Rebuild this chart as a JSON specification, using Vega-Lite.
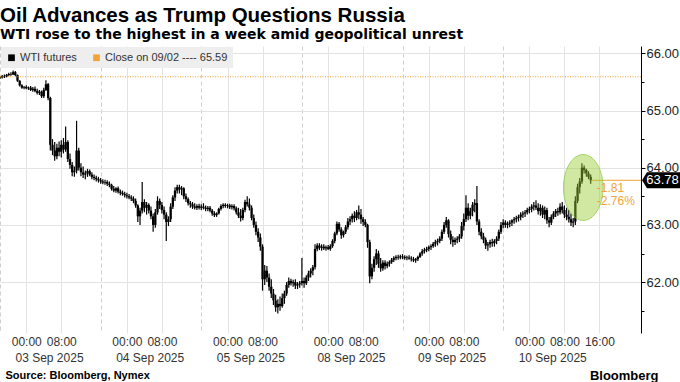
{
"$schema":"https://vega.github.io/schema/vega-lite/v6.json",
"width":641,"height":287,"autosize":{"type":"none"},
"padding":{"left":0,"top":46,"right":39,"bottom":49},
"background":"#ffffff",
"config":{"view":{"stroke":null},"font":"Liberation Sans"},
"title":{"text":"Oil Advances as Trump Questions Russia","subtitle":"WTI rose to the highest in a week amid geopolitical unrest","anchor":"start","frame":"group","offset":4,"font":"Liberation Sans","fontSize":20.5,"fontWeight":"bold","color":"#000","subtitleFont":"DejaVu Sans","subtitleFontSize":14,"subtitleFontWeight":"bold","subtitleColor":"#000","subtitlePadding":2},
"datasets":{
"bars":[
{"t":0,"o":65.57,"h":65.60,"l":65.55,"c":65.58},{"t":0.5,"o":65.58,"h":65.62,"l":65.56,"c":65.60},{"t":1,"o":65.60,"h":65.63,"l":65.57,"c":65.59},{"t":1.5,"o":65.59,"h":65.64,"l":65.58,"c":65.62},{"t":2,"o":65.62,"h":65.66,"l":65.60,"c":65.64},{"t":2.5,"o":65.64,"h":65.67,"l":65.61,"c":65.63},{"t":3,"o":65.63,"h":65.70,"l":65.62,"c":65.67},{"t":3.5,"o":65.67,"h":65.69,"l":65.60,"c":65.62},{"t":4,"o":65.62,"h":65.63,"l":65.50,"c":65.52},{"t":4.5,"o":65.52,"h":65.53,"l":65.42,"c":65.44},{"t":5,"o":65.44,"h":65.46,"l":65.38,"c":65.40},{"t":5.5,"o":65.40,"h":65.43,"l":65.37,"c":65.41},{"t":6,"o":65.41,"h":65.44,"l":65.37,"c":65.39},{"t":6.5,"o":65.39,"h":65.42,"l":65.36,"c":65.40},{"t":7,"o":65.40,"h":65.43,"l":65.34,"c":65.36},{"t":7.5,"o":65.36,"h":65.41,"l":65.33,"c":65.38},{"t":8,"o":65.38,"h":65.42,"l":65.32,"c":65.34},{"t":8.5,"o":65.34,"h":65.38,"l":65.28,"c":65.31},{"t":9,"o":65.31,"h":65.36,"l":65.27,"c":65.33},{"t":9.5,"o":65.33,"h":65.35,"l":65.22,"c":65.25},{"t":10,"o":65.25,"h":65.40,"l":65.22,"c":65.36},{"t":10.5,"o":65.36,"h":65.53,"l":65.34,"c":65.46},{"t":11,"o":65.46,"h":65.48,"l":65.18,"c":65.22},{"t":11.5,"o":65.22,"h":65.24,"l":64.30,"c":64.40},{"t":12,"o":64.40,"h":64.50,"l":64.22,"c":64.30},{"t":12.5,"o":64.30,"h":64.45,"l":64.12,"c":64.20},{"t":13,"o":64.20,"h":64.42,"l":64.15,"c":64.35},{"t":13.5,"o":64.35,"h":64.46,"l":64.20,"c":64.28},{"t":14,"o":64.28,"h":64.48,"l":64.18,"c":64.40},{"t":14.5,"o":64.40,"h":64.52,"l":64.25,"c":64.32},{"t":15,"o":64.32,"h":64.72,"l":64.28,"c":64.45},{"t":15.5,"o":64.45,"h":64.48,"l":64.10,"c":64.15},{"t":16,"o":64.15,"h":64.25,"l":63.98,"c":64.05},{"t":16.5,"o":64.05,"h":64.10,"l":63.85,"c":63.92},{"t":17,"o":63.92,"h":64.02,"l":63.84,"c":63.95},{"t":17.5,"o":63.95,"h":64.82,"l":63.90,"c":64.30},{"t":18,"o":64.30,"h":64.35,"l":63.95,"c":64.00},{"t":18.5,"o":64.00,"h":64.08,"l":63.85,"c":63.92},{"t":19,"o":63.92,"h":64.02,"l":63.82,"c":63.88},{"t":19.5,"o":63.88,"h":63.95,"l":63.80,"c":63.90},{"t":20,"o":63.90,"h":63.98,"l":63.84,"c":63.94},{"t":20.5,"o":63.94,"h":63.97,"l":63.85,"c":63.88},{"t":21,"o":63.88,"h":63.92,"l":63.80,"c":63.84},{"t":21.5,"o":63.84,"h":63.88,"l":63.78,"c":63.82},{"t":22,"o":63.82,"h":63.86,"l":63.76,"c":63.80},{"t":22.5,"o":63.80,"h":63.84,"l":63.74,"c":63.78},
{"t":23,"o":63.78,"h":63.82,"l":63.72,"c":63.76},{"t":23.5,"o":63.76,"h":63.80,"l":63.71,"c":63.74},{"t":24,"o":63.74,"h":63.79,"l":63.70,"c":63.75},{"t":24.5,"o":63.75,"h":63.78,"l":63.68,"c":63.72},{"t":25,"o":63.72,"h":63.76,"l":63.66,"c":63.70},{"t":25.5,"o":63.70,"h":63.72,"l":63.60,"c":63.63},{"t":26,"o":63.63,"h":63.68,"l":63.57,"c":63.60},{"t":26.5,"o":63.60,"h":63.66,"l":63.56,"c":63.64},{"t":27,"o":63.64,"h":63.67,"l":63.55,"c":63.58},{"t":27.5,"o":63.58,"h":63.62,"l":63.52,"c":63.56},{"t":28,"o":63.56,"h":63.60,"l":63.51,"c":63.54},{"t":28.5,"o":63.54,"h":63.58,"l":63.48,"c":63.52},{"t":29,"o":63.52,"h":63.56,"l":63.46,"c":63.50},{"t":29.5,"o":63.50,"h":63.54,"l":63.45,"c":63.48},{"t":30,"o":63.48,"h":63.52,"l":63.42,"c":63.46},{"t":30.5,"o":63.46,"h":63.50,"l":63.38,"c":63.42},{"t":31,"o":63.42,"h":63.46,"l":63.30,"c":63.34},{"t":31.5,"o":63.34,"h":63.36,"l":63.05,"c":63.15},{"t":32,"o":63.15,"h":63.30,"l":63.00,"c":63.25},{"t":32.5,"o":63.25,"h":63.75,"l":63.20,"c":63.40},{"t":33,"o":63.40,"h":63.45,"l":63.22,"c":63.30},{"t":33.5,"o":63.30,"h":63.40,"l":63.18,"c":63.35},{"t":34,"o":63.35,"h":63.38,"l":63.20,"c":63.25},{"t":34.5,"o":63.25,"h":63.32,"l":63.10,"c":63.15},{"t":35,"o":63.15,"h":63.20,"l":62.88,"c":63.00},{"t":35.5,"o":63.00,"h":63.28,"l":62.95,"c":63.22},{"t":36,"o":63.22,"h":63.50,"l":63.18,"c":63.42},{"t":36.5,"o":63.42,"h":63.46,"l":63.28,"c":63.35},{"t":37,"o":63.35,"h":63.40,"l":63.20,"c":63.26},{"t":37.5,"o":63.26,"h":63.32,"l":63.10,"c":63.18},{"t":38,"o":63.18,"h":63.22,"l":62.72,"c":63.05},{"t":38.5,"o":63.05,"h":63.15,"l":62.98,"c":63.10},{"t":39,"o":63.10,"h":63.38,"l":63.05,"c":63.32},{"t":39.5,"o":63.32,"h":63.52,"l":63.28,"c":63.48},{"t":40,"o":63.48,"h":63.66,"l":63.42,"c":63.60},{"t":40.5,"o":63.60,"h":63.70,"l":63.55,"c":63.66},{"t":41,"o":63.66,"h":63.70,"l":63.55,"c":63.62},{"t":41.5,"o":63.62,"h":63.68,"l":63.52,"c":63.64},{"t":42,"o":63.64,"h":63.66,"l":63.45,"c":63.50},{"t":42.5,"o":63.50,"h":63.55,"l":63.40,"c":63.45},{"t":43,"o":63.45,"h":63.48,"l":63.34,"c":63.38},{"t":43.5,"o":63.38,"h":63.42,"l":63.30,"c":63.36},{"t":44,"o":63.36,"h":63.40,"l":63.28,"c":63.32},{"t":44.5,"o":63.32,"h":63.38,"l":63.27,"c":63.30},{"t":45,"o":63.30,"h":63.36,"l":63.26,"c":63.33},{"t":45.5,"o":63.33,"h":63.37,"l":63.27,"c":63.30},
{"t":46,"o":63.30,"h":63.36,"l":63.26,"c":63.32},{"t":46.5,"o":63.32,"h":63.38,"l":63.27,"c":63.30},{"t":47,"o":63.30,"h":63.34,"l":63.24,"c":63.28},{"t":47.5,"o":63.28,"h":63.33,"l":63.24,"c":63.30},{"t":48,"o":63.30,"h":63.33,"l":63.22,"c":63.25},{"t":48.5,"o":63.25,"h":63.28,"l":63.16,"c":63.20},{"t":49,"o":63.20,"h":63.24,"l":63.14,"c":63.17},{"t":49.5,"o":63.17,"h":63.22,"l":63.14,"c":63.20},{"t":50,"o":63.20,"h":63.30,"l":63.18,"c":63.28},{"t":50.5,"o":63.28,"h":63.36,"l":63.25,"c":63.33},{"t":51,"o":63.33,"h":63.38,"l":63.29,"c":63.35},{"t":51.5,"o":63.35,"h":63.38,"l":63.30,"c":63.33},{"t":52,"o":63.33,"h":63.37,"l":63.29,"c":63.34},{"t":52.5,"o":63.34,"h":63.37,"l":63.28,"c":63.31},{"t":53,"o":63.31,"h":63.36,"l":63.27,"c":63.33},{"t":53.5,"o":63.33,"h":63.36,"l":63.25,"c":63.29},{"t":54,"o":63.29,"h":63.32,"l":63.18,"c":63.22},{"t":54.5,"o":63.22,"h":63.30,"l":63.12,"c":63.16},{"t":55,"o":63.16,"h":63.28,"l":63.06,"c":63.12},{"t":55.5,"o":63.12,"h":63.30,"l":63.08,"c":63.26},{"t":56,"o":63.26,"h":63.44,"l":63.22,"c":63.40},{"t":56.5,"o":63.40,"h":63.50,"l":63.32,"c":63.36},{"t":57,"o":63.36,"h":63.46,"l":63.25,"c":63.30},{"t":57.5,"o":63.30,"h":63.34,"l":63.08,"c":63.12},{"t":58,"o":63.12,"h":63.18,"l":62.95,"c":63.00},{"t":58.5,"o":63.00,"h":63.06,"l":62.82,"c":62.88},{"t":59,"o":62.88,"h":62.94,"l":62.70,"c":62.78},{"t":59.5,"o":62.78,"h":62.85,"l":62.55,"c":62.62},{"t":60,"o":62.62,"h":62.66,"l":61.85,"c":62.05},{"t":60.5,"o":62.05,"h":62.30,"l":61.95,"c":62.20},{"t":61,"o":62.20,"h":62.28,"l":62.00,"c":62.08},{"t":61.5,"o":62.08,"h":62.15,"l":61.85,"c":61.92},{"t":62,"o":61.92,"h":62.05,"l":61.72,"c":61.80},{"t":62.5,"o":61.80,"h":61.88,"l":61.60,"c":61.68},{"t":63,"o":61.68,"h":61.78,"l":61.48,"c":61.56},{"t":63.5,"o":61.56,"h":61.70,"l":61.45,"c":61.62},{"t":64,"o":61.62,"h":61.75,"l":61.50,"c":61.58},{"t":64.5,"o":61.58,"h":61.80,"l":61.55,"c":61.72},{"t":65,"o":61.72,"h":61.85,"l":61.62,"c":61.80},{"t":65.5,"o":61.80,"h":62.00,"l":61.76,"c":61.95},{"t":66,"o":61.95,"h":62.08,"l":61.90,"c":62.02},{"t":66.5,"o":62.02,"h":62.06,"l":61.94,"c":61.98},{"t":67,"o":61.98,"h":62.04,"l":61.92,"c":62.00},{"t":67.5,"o":62.00,"h":62.05,"l":61.88,"c":61.94},{"t":68,"o":61.94,"h":62.00,"l":61.88,"c":61.96},{"t":68.5,"o":61.96,"h":62.02,"l":61.90,"c":61.98},
{"t":69,"o":61.98,"h":62.42,"l":61.94,"c":62.02},{"t":69.5,"o":62.02,"h":62.08,"l":61.90,"c":61.98},{"t":70,"o":61.98,"h":62.12,"l":61.95,"c":62.08},{"t":70.5,"o":62.08,"h":62.20,"l":62.02,"c":62.15},{"t":71,"o":62.15,"h":62.24,"l":62.08,"c":62.20},{"t":71.5,"o":62.20,"h":62.30,"l":62.12,"c":62.26},{"t":72,"o":62.26,"h":62.66,"l":62.22,"c":62.58},{"t":72.5,"o":62.58,"h":62.68,"l":62.54,"c":62.64},{"t":73,"o":62.64,"h":62.68,"l":62.56,"c":62.60},{"t":73.5,"o":62.60,"h":62.66,"l":62.55,"c":62.62},{"t":74,"o":62.62,"h":62.66,"l":62.56,"c":62.59},{"t":74.5,"o":62.59,"h":62.64,"l":62.55,"c":62.61},{"t":75,"o":62.61,"h":62.65,"l":62.56,"c":62.58},{"t":75.5,"o":62.58,"h":62.66,"l":62.55,"c":62.63},{"t":76,"o":62.63,"h":62.75,"l":62.60,"c":62.72},{"t":76.5,"o":62.72,"h":62.88,"l":62.68,"c":62.85},{"t":77,"o":62.85,"h":63.06,"l":62.82,"c":63.02},{"t":77.5,"o":63.02,"h":63.05,"l":62.88,"c":62.92},{"t":78,"o":62.92,"h":62.96,"l":62.76,"c":62.82},{"t":78.5,"o":62.82,"h":62.90,"l":62.78,"c":62.88},{"t":79,"o":62.88,"h":63.00,"l":62.84,"c":62.96},{"t":79.5,"o":62.96,"h":63.12,"l":62.92,"c":63.06},{"t":80,"o":63.06,"h":63.15,"l":63.00,"c":63.10},{"t":80.5,"o":63.10,"h":63.20,"l":63.04,"c":63.16},{"t":81,"o":63.16,"h":63.24,"l":63.05,"c":63.12},{"t":81.5,"o":63.12,"h":63.26,"l":63.08,"c":63.22},{"t":82,"o":63.22,"h":63.34,"l":63.10,"c":63.18},{"t":82.5,"o":63.18,"h":63.28,"l":63.02,"c":63.10},{"t":83,"o":63.10,"h":63.14,"l":62.98,"c":63.05},{"t":83.5,"o":63.05,"h":63.10,"l":62.96,"c":63.00},{"t":84,"o":63.00,"h":63.02,"l":62.60,"c":62.70},{"t":84.5,"o":62.70,"h":62.74,"l":61.98,"c":62.10},{"t":85,"o":62.10,"h":62.32,"l":62.05,"c":62.25},{"t":85.5,"o":62.25,"h":62.45,"l":62.18,"c":62.40},{"t":86,"o":62.40,"h":62.58,"l":62.30,"c":62.50},{"t":86.5,"o":62.50,"h":62.55,"l":62.25,"c":62.32},{"t":87,"o":62.32,"h":62.42,"l":62.18,"c":62.24},{"t":87.5,"o":62.24,"h":62.38,"l":62.20,"c":62.34},{"t":88,"o":62.34,"h":62.38,"l":62.22,"c":62.28},{"t":88.5,"o":62.28,"h":62.36,"l":62.24,"c":62.32},{"t":89,"o":62.32,"h":62.38,"l":62.27,"c":62.35},{"t":89.5,"o":62.35,"h":62.42,"l":62.32,"c":62.39},{"t":90,"o":62.39,"h":62.45,"l":62.35,"c":62.42},{"t":90.5,"o":62.42,"h":62.47,"l":62.38,"c":62.44},{"t":91,"o":62.44,"h":62.48,"l":62.39,"c":62.43},{"t":91.5,"o":62.43,"h":62.48,"l":62.40,"c":62.45},
{"t":92,"o":62.45,"h":62.49,"l":62.40,"c":62.44},{"t":92.5,"o":62.44,"h":62.47,"l":62.39,"c":62.42},{"t":93,"o":62.42,"h":62.46,"l":62.38,"c":62.43},{"t":93.5,"o":62.43,"h":62.47,"l":62.39,"c":62.41},{"t":94,"o":62.41,"h":62.45,"l":62.36,"c":62.40},{"t":94.5,"o":62.40,"h":62.44,"l":62.35,"c":62.38},{"t":95,"o":62.38,"h":62.42,"l":62.34,"c":62.40},{"t":95.5,"o":62.40,"h":62.46,"l":62.37,"c":62.44},{"t":96,"o":62.44,"h":62.52,"l":62.42,"c":62.50},{"t":96.5,"o":62.50,"h":62.58,"l":62.46,"c":62.54},{"t":97,"o":62.54,"h":62.60,"l":62.50,"c":62.56},{"t":97.5,"o":62.56,"h":62.62,"l":62.52,"c":62.58},{"t":98,"o":62.58,"h":62.64,"l":62.54,"c":62.61},{"t":98.5,"o":62.61,"h":62.66,"l":62.56,"c":62.63},{"t":99,"o":62.63,"h":62.70,"l":62.60,"c":62.67},{"t":99.5,"o":62.67,"h":62.74,"l":62.62,"c":62.70},{"t":100,"o":62.70,"h":62.76,"l":62.64,"c":62.72},{"t":100.5,"o":62.72,"h":62.80,"l":62.68,"c":62.76},{"t":101,"o":62.76,"h":62.92,"l":62.72,"c":62.88},{"t":101.5,"o":62.88,"h":63.05,"l":62.84,"c":63.00},{"t":102,"o":63.00,"h":63.14,"l":62.95,"c":63.08},{"t":102.5,"o":63.08,"h":63.10,"l":62.78,"c":62.84},{"t":103,"o":62.84,"h":62.90,"l":62.66,"c":62.74},{"t":103.5,"o":62.74,"h":62.80,"l":62.62,"c":62.70},{"t":104,"o":62.70,"h":62.78,"l":62.65,"c":62.74},{"t":104.5,"o":62.74,"h":62.80,"l":62.68,"c":62.76},{"t":105,"o":62.76,"h":62.84,"l":62.70,"c":62.80},{"t":105.5,"o":62.80,"h":63.05,"l":62.76,"c":62.98},{"t":106,"o":62.98,"h":63.20,"l":62.90,"c":63.10},{"t":106.5,"o":63.10,"h":63.52,"l":63.05,"c":63.30},{"t":107,"o":63.30,"h":63.38,"l":63.08,"c":63.16},{"t":107.5,"o":63.16,"h":63.30,"l":63.10,"c":63.24},{"t":108,"o":63.24,"h":63.40,"l":63.15,"c":63.35},{"t":108.5,"o":63.35,"h":63.45,"l":63.22,"c":63.38},{"t":109,"o":63.38,"h":63.68,"l":63.00,"c":63.06},{"t":109.5,"o":63.06,"h":63.10,"l":62.82,"c":62.88},{"t":110,"o":62.88,"h":62.94,"l":62.75,"c":62.80},{"t":110.5,"o":62.80,"h":62.86,"l":62.68,"c":62.74},{"t":111,"o":62.74,"h":62.78,"l":62.58,"c":62.64},{"t":111.5,"o":62.64,"h":62.70,"l":62.55,"c":62.66},{"t":112,"o":62.66,"h":62.74,"l":62.60,"c":62.70},{"t":112.5,"o":62.70,"h":62.76,"l":62.62,"c":62.68},{"t":113,"o":62.68,"h":62.75,"l":62.62,"c":62.72},{"t":113.5,"o":62.72,"h":62.80,"l":62.66,"c":62.76},{"t":114,"o":62.76,"h":62.92,"l":62.72,"c":62.88},{"t":114.5,"o":62.88,"h":63.05,"l":62.84,"c":63.00},
{"t":115,"o":63.00,"h":63.10,"l":62.94,"c":63.04},{"t":115.5,"o":63.04,"h":63.08,"l":62.95,"c":63.00},{"t":116,"o":63.00,"h":63.06,"l":62.94,"c":63.02},{"t":116.5,"o":63.02,"h":63.08,"l":62.96,"c":63.04},{"t":117,"o":63.04,"h":63.10,"l":62.98,"c":63.08},{"t":117.5,"o":63.08,"h":63.14,"l":63.02,"c":63.10},{"t":118,"o":63.10,"h":63.16,"l":63.04,"c":63.12},{"t":118.5,"o":63.12,"h":63.18,"l":63.06,"c":63.14},{"t":119,"o":63.14,"h":63.22,"l":63.08,"c":63.18},{"t":119.5,"o":63.18,"h":63.24,"l":63.12,"c":63.20},{"t":120,"o":63.20,"h":63.26,"l":63.14,"c":63.22},{"t":120.5,"o":63.22,"h":63.30,"l":63.18,"c":63.26},{"t":121,"o":63.26,"h":63.32,"l":63.20,"c":63.28},{"t":121.5,"o":63.28,"h":63.36,"l":63.22,"c":63.32},{"t":122,"o":63.32,"h":63.40,"l":63.25,"c":63.34},{"t":122.5,"o":63.34,"h":63.43,"l":63.26,"c":63.30},{"t":123,"o":63.30,"h":63.38,"l":63.18,"c":63.24},{"t":123.5,"o":63.24,"h":63.36,"l":63.16,"c":63.30},{"t":124,"o":63.30,"h":63.34,"l":63.12,"c":63.18},{"t":124.5,"o":63.18,"h":63.32,"l":63.10,"c":63.26},{"t":125,"o":63.26,"h":63.30,"l":63.02,"c":63.08},{"t":125.5,"o":63.08,"h":63.14,"l":62.96,"c":63.04},{"t":126,"o":63.04,"h":63.18,"l":63.00,"c":63.14},{"t":126.5,"o":63.14,"h":63.24,"l":63.10,"c":63.20},{"t":127,"o":63.20,"h":63.28,"l":63.14,"c":63.24},{"t":127.5,"o":63.24,"h":63.30,"l":63.16,"c":63.22},{"t":128,"o":63.22,"h":63.38,"l":63.18,"c":63.32},{"t":128.5,"o":63.32,"h":63.40,"l":63.20,"c":63.26},{"t":129,"o":63.26,"h":63.34,"l":63.12,"c":63.18},{"t":129.5,"o":63.18,"h":63.30,"l":63.08,"c":63.14},{"t":130,"o":63.14,"h":63.26,"l":63.04,"c":63.10},{"t":130.5,"o":63.10,"h":63.20,"l":62.98,"c":63.04},{"t":131,"o":63.04,"h":63.12,"l":62.96,"c":63.06},{"t":131.5,"o":63.06,"h":63.50,"l":63.00,"c":63.42},{"t":132,"o":63.42,"h":63.72,"l":63.38,"c":63.66},{"t":132.5,"o":63.66,"h":63.82,"l":63.55,"c":63.76},{"t":133,"o":63.76,"h":64.08,"l":63.72,"c":64.00},{"t":133.5,"o":64.00,"h":64.04,"l":63.90,"c":63.96},{"t":134,"o":63.96,"h":63.98,"l":63.84,"c":63.90},{"t":134.5,"o":63.90,"h":63.94,"l":63.80,"c":63.84},{"t":135,"o":63.84,"h":63.88,"l":63.72,"c":63.78}
],
"prev":[{"p":65.59}],
"last":[{"t0":135.2,"t1":146.5,"p":63.78,"lbl":"63.78","tt":151.2}],
"hl":[{"t":133.3,"p":63.654}],
"notes":[{"t":136.4,"p":63.645,"txt":"-1.81"},{"t":136.4,"p":63.41,"txt":"-2.76%"}]
},
"layer":[
{"data":{"name":"bars"},"mark":{"type":"rule","color":"#000000","strokeWidth":1.2},
 "encoding":{
  "x":{"field":"t","type":"quantitative","scale":{"domain":[0,146.5],"nice":false,"zero":false,"padding":0},
   "axis":{"orient":"bottom","values":[6,14,29,37,52,60,75,83,98,106,121,129,137],"labelExpr":"(datum.value - 6) % 23 == 0 ? '00:00' : ((datum.value - 14) % 23 == 0 ? '08:00' : '16:00')","grid":true,"gridColor":"#e3e3e3","gridWidth":1,"ticks":false,"domain":false,"labelFontSize":12,"labelColor":"#333333","labelPadding":3,"labelFlush":false,"labelOverlap":false,"title":"Bloomberg","titleX":658,"titleY":42,"titleAlign":"right","titleBaseline":"middle","titleFontSize":13,"titleFontWeight":"bold","titleColor":"#000000"}},
  "y":{"field":"l","type":"quantitative","scale":{"domain":[61.11,66.128],"nice":false,"zero":false},
   "axis":{"orient":"right","values":[62,63,64,65,66],"format":".2f","grid":true,"gridColor":"#e3e3e3","domain":true,"domainColor":"#000000","domainWidth":1,"ticks":true,"tickColor":"#000000","tickSize":4,"labelFontSize":13,"labelColor":"#222222","labelPadding":1,"title":null}},
  "y2":{"field":"h"}
 }},
{"data":{"name":"bars"},"mark":{"type":"bar","size":2.3},
 "encoding":{
  "x":{"field":"t","type":"quantitative",
   "axis":{"orient":"bottom","values":[0,23,46,69,92,115],"labelExpr":"['03 Sep 2025','04 Sep 2025','05 Sep 2025','08 Sep 2025','09 Sep 2025','10 Sep 2025'][round(datum.value/23)]","labelAlign":"left","labelOffset":15,"labelPadding":19,"grid":true,"gridDash":[4,3],"gridColor":"#cfcfcf","ticks":false,"domain":false,"labelFontSize":12,"labelColor":"#333333","labelFlush":false,"labelOverlap":false,"title":"Source: Bloomberg, Nymex","titleX":5,"titleY":42,"titleAlign":"left","titleBaseline":"middle","titleFontSize":11,"titleFontWeight":"bold","titleColor":"#000000"}},
  "y":{"field":"o","type":"quantitative",
   "axis":{"orient":"right","values":[61.5,62.5,63.5,64.5,65.5],"labels":false,"grid":false,"domain":false,"ticks":true,"tickColor":"#000000","tickSize":3,"title":null}},
  "y2":{"field":"c"},
  "color":{"datum":"WTI futures","type":"nominal","scale":{"domain":["WTI futures","Close on 09/02 ---- 65.59"],"range":["#000000","#f2a33a"]},
   "legend":{"orient":"top-left","direction":"horizontal","title":null,"fillColor":"#eeeeee","padding":5,"offset":1,"labelFontSize":11,"labelColor":"#333333","symbolType":"square","symbolSize":45,"symbolStrokeWidth":0,"columnPadding":14,"labelOffset":3}}
 }},
{"data":{"name":"prev"},"mark":{"type":"rule","color":"#f2a33a","strokeWidth":1,"strokeDash":[1,1.5]},
 "encoding":{"y":{"field":"p","type":"quantitative","axis":null}}},
{"data":{"name":"last"},"mark":{"type":"rule","color":"#f2a33a","strokeWidth":1},
 "encoding":{"x":{"field":"t0","type":"quantitative","axis":null},"x2":{"field":"t1"},"y":{"field":"p","type":"quantitative","axis":null}}},
{"data":{"name":"hl"},"mark":{"type":"point","filled":true,"fill":"#9acd32","fillOpacity":0.45,"stroke":"#8cc63f","strokeOpacity":0.7,"strokeWidth":1,"size":4356,"shape":"M 0.6 0 C 0.6 0.5523 0.3314 1 0 1 C -0.3314 1 -0.6 0.5523 -0.6 0 C -0.6 -0.5523 -0.3314 -1 0 -1 C 0.3314 -1 0.6 -0.5523 0.6 0 Z"},
 "encoding":{"x":{"field":"t","type":"quantitative","axis":null},"y":{"field":"p","type":"quantitative","axis":null}}},
{"data":{"name":"notes"},"mark":{"type":"text","align":"left","baseline":"middle","fontSize":12,"color":"#f2a33a"},
 "encoding":{"x":{"field":"t","type":"quantitative","axis":null},"y":{"field":"p","type":"quantitative","axis":null},"text":{"field":"txt"}}},
{"data":{"name":"last"},"mark":{"type":"point","filled":true,"color":"#000000","opacity":1,"size":1521,"shape":"M -1 0 L -0.75 -0.41 L 1 -0.41 L 1 0.41 L -0.75 0.41 Z"},
 "encoding":{"x":{"field":"tt","type":"quantitative","axis":null},"y":{"field":"p","type":"quantitative","axis":null}}},
{"data":{"name":"last"},"mark":{"type":"text","align":"center","baseline":"middle","fontSize":13,"color":"#ffffff","dx":1},
 "encoding":{"x":{"field":"tt","type":"quantitative","axis":null},"y":{"field":"p","type":"quantitative","axis":null},"text":{"field":"lbl"}}}
],
"resolve":{"axis":{"x":"independent","y":"independent"}}
}
